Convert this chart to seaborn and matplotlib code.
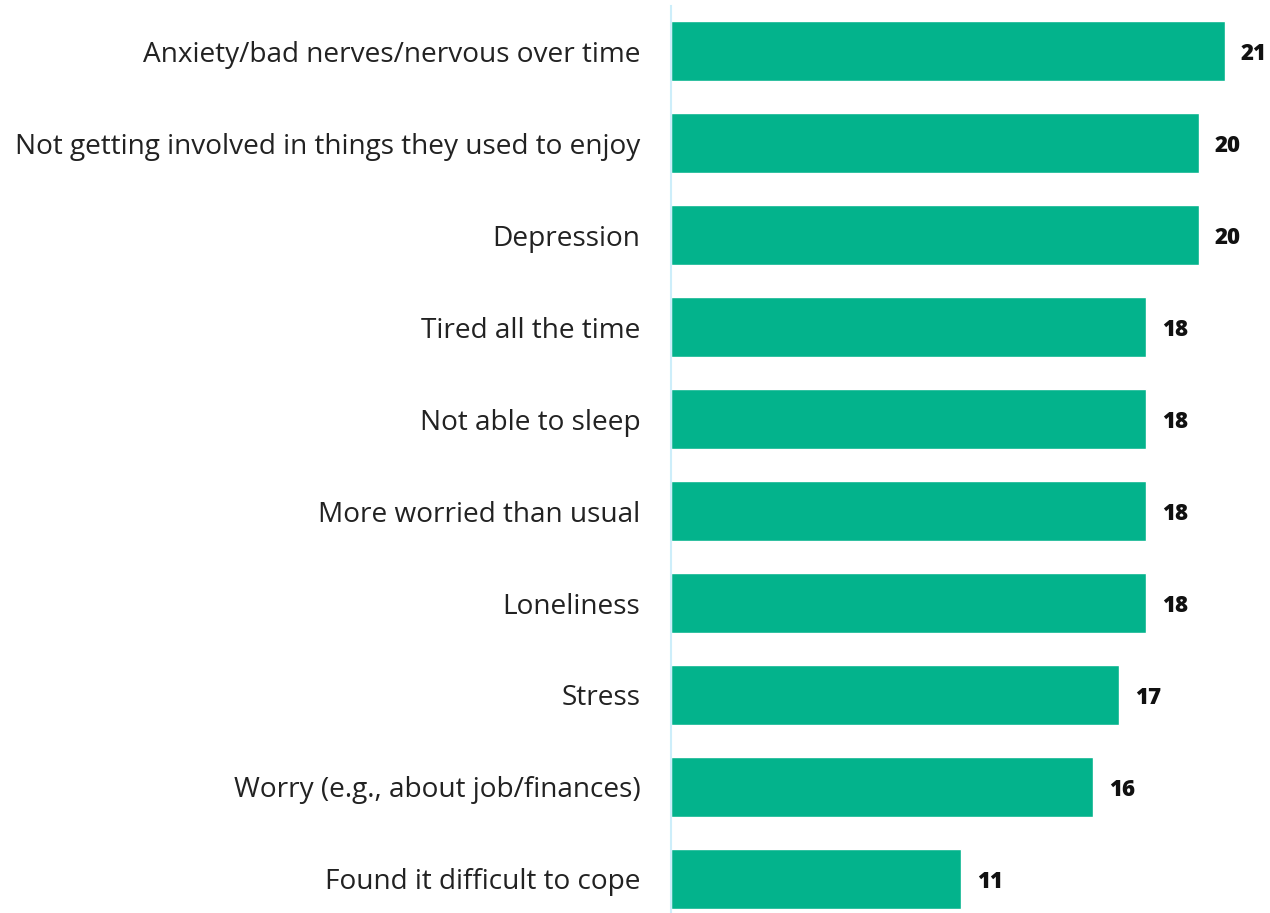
import pandas as pd
import seaborn as sns
import matplotlib.pyplot as plt

categories = [
    "Anxiety/bad nerves/nervous over time",
    "Not getting involved in things they used to enjoy",
    "Depression",
    "Tired all the time",
    "Not able to sleep",
    "More worried than usual",
    "Loneliness",
    "Stress",
    "Worry (e.g., about job/finances)",
    "Found it difficult to cope",
]
values = [21, 20, 20, 18, 18, 18, 18, 17, 16, 11]

df = pd.DataFrame({"category": categories, "value": values})

sns.set_style("white")
plt.rcParams["font.family"] = ["Open Sans", "DejaVu Sans"]

fig = plt.figure(figsize=(12.7, 9.13), dpi=100)
ax = fig.add_axes([671 / 1270, 0.0, 1 - 671 / 1270, 1 - 6 / 913])

sns.barplot(data=df, x="value", y="category", color="#03b38c", saturation=1,
            width=0.66, orient="h", ax=ax)

for i, v in enumerate(values):
    ax.annotate(str(v), xy=(v, i), xytext=(11.5, -2), textcoords="offset points",
                ha="left", va="center", fontsize=16, fontweight="heavy", color="#111111")

ax.set_xlim(0, (1270 - 671) / 26.38)
ax.set_ylim(9.37, -0.49)
ax.set_xlabel("")
ax.set_ylabel("")
ax.set_xticks([])
for s in ["top", "right", "bottom"]:
    ax.spines[s].set_visible(False)
ax.spines["left"].set_color("#cdeefa")
ax.spines["left"].set_linewidth(1.5)
ax.tick_params(axis="y", length=0, pad=22, labelsize=20.2, labelcolor="#222222")

fig.savefig("out.png", dpi=100)
